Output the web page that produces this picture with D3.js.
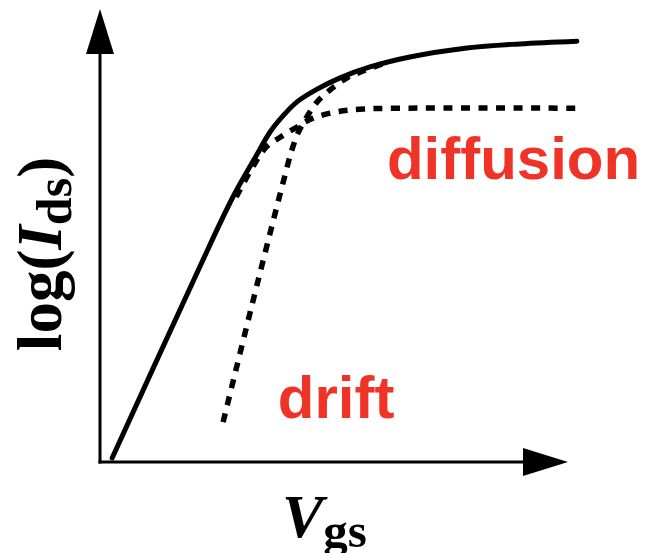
<!DOCTYPE html>
<html>
<head>
<meta charset="utf-8">
<script src="https://cdn.jsdelivr.net/npm/d3@7/dist/d3.min.js"></script>
<style>
  html, body { margin: 0; padding: 0; background: #fff; }
  svg { display: block; }
</style>
</head>
<body>
<svg id="chart" width="646" height="553"></svg>
<script>
// Sketch of the MOSFET transfer characteristic: log(Ids) versus Vgs,
// total current (solid) with its diffusion and drift components (dotted).
// Units are arbitrary: both axes run 0..10.

// total current
const totalVgs  = [0.26, 2.03, 2.84, 3.35, 3.63, 3.91, 4.21, 4.64, 5.13, 5.77, 6.62, 7.84, 8.97, 10.19];
const totalLogI = [0.09, 4.08, 5.85, 6.78, 7.28, 7.64, 7.95, 8.23, 8.48, 8.72, 8.94, 9.14, 9.23, 9.29];

// diffusion component (leaves the total curve and saturates)
const diffVgs  = [2.91, 3.25, 3.55, 3.85, 4.17, 4.55, 5.06, 5.62, 6.41, 10.32];
const diffLogI = [5.85, 6.49, 6.95, 7.17, 7.37, 7.59, 7.73, 7.79, 7.81, 7.81];

// drift component (steep rise, then joins the total curve)
const driftVgs  = [2.63, 3.35, 3.91, 4.10, 4.23, 4.42, 4.64, 4.91, 5.28, 5.62, 6.09];
const driftLogI = [0.88, 3.89, 6.16, 6.89, 7.26, 7.62, 7.95, 8.21, 8.48, 8.63, 8.81];

// label texts
const curveLabels = [
  { text: "diffusion", vgs: 6.13, logI: 6.24 },
  { text: "drift",     vgs: 3.80, logI: 0.97 }
];

const svg = d3.select("#chart");

const x = d3.scaleLinear().domain([0, 10]).range([100, 568]);
const y = d3.scaleLinear().domain([0, 10]).range([462, 9]);

const zip = (xs, ys) => xs.map((v, i) => [v, ys[i]]);

const line = d3.line()
  .x(d => x(d[0]))
  .y(d => y(d[1]))
  .curve(d3.curveCatmullRom.alpha(0.5));

// axes with arrowheads
const arrowLen = 45, arrowHalf = 14;
const axes = svg.append("g").attr("stroke", "#000").attr("stroke-width", 3);
axes.append("line")
  .attr("x1", x(0)).attr("y1", y(0) + 1.5)
  .attr("x2", x(0)).attr("y2", y(10) + arrowLen - 2);
axes.append("line")
  .attr("x1", x(0) - 1.5).attr("y1", y(0))
  .attr("x2", x(10) - arrowLen + 2).attr("y2", y(0));

svg.append("path")
  .attr("fill", "#000")
  .attr("d", `M${x(0)},${y(10)} L${x(0) + arrowHalf},${y(10) + arrowLen} L${x(0) - arrowHalf},${y(10) + arrowLen} Z`);
svg.append("path")
  .attr("fill", "#000")
  .attr("d", `M${x(10)},${y(0)} L${x(10) - arrowLen},${y(0) - arrowHalf} L${x(10) - arrowLen},${y(0) + arrowHalf} Z`);

// component curves
const dotted = svg.append("g")
  .attr("fill", "none")
  .attr("stroke", "#000")
  .attr("stroke-width", 5.5)
  .attr("stroke-dasharray", "9,8.5");

dotted.append("path").attr("d", line(zip(diffVgs, diffLogI)));
dotted.append("path").attr("d", line(zip(driftVgs, driftLogI)));

// total current
svg.append("path")
  .attr("fill", "none")
  .attr("stroke", "#000")
  .attr("stroke-width", 5)
  .attr("stroke-linecap", "round")
  .attr("d", line(zip(totalVgs, totalLogI)));

// curve labels
svg.append("g")
  .selectAll("text")
  .data(curveLabels)
  .join("text")
  .attr("x", d => x(d.vgs))
  .attr("y", d => y(d.logI))
  .attr("fill", "#ef3327")
  .attr("font-family", "'Liberation Sans', Arial, sans-serif")
  .attr("font-weight", "bold")
  .attr("font-size", 60)
  .text(d => d.text);

// axis titles
const serif = "'Liberation Serif', 'Times New Roman', serif";

const yTitle = svg.append("text")
  .attr("transform", `translate(61,254) rotate(-90)`)
  .attr("text-anchor", "middle")
  .attr("font-family", serif)
  .attr("font-weight", "bold")
  .attr("font-size", 63);
yTitle.append("tspan").text("log(");
yTitle.append("tspan").attr("font-style", "italic").text("I");
yTitle.append("tspan").attr("font-size", 50).attr("dy", 10).text("ds");
yTitle.append("tspan").attr("dy", -10).text(")");

const xTitle = svg.append("text")
  .attr("x", 282)
  .attr("y", 537)
  .attr("font-family", serif)
  .attr("font-weight", "bold")
  .attr("font-size", 62);
xTitle.append("tspan").attr("font-style", "italic").text("V");
xTitle.append("tspan").attr("font-size", 49).attr("dy", 10).text("gs");
</script>
</body>
</html>
